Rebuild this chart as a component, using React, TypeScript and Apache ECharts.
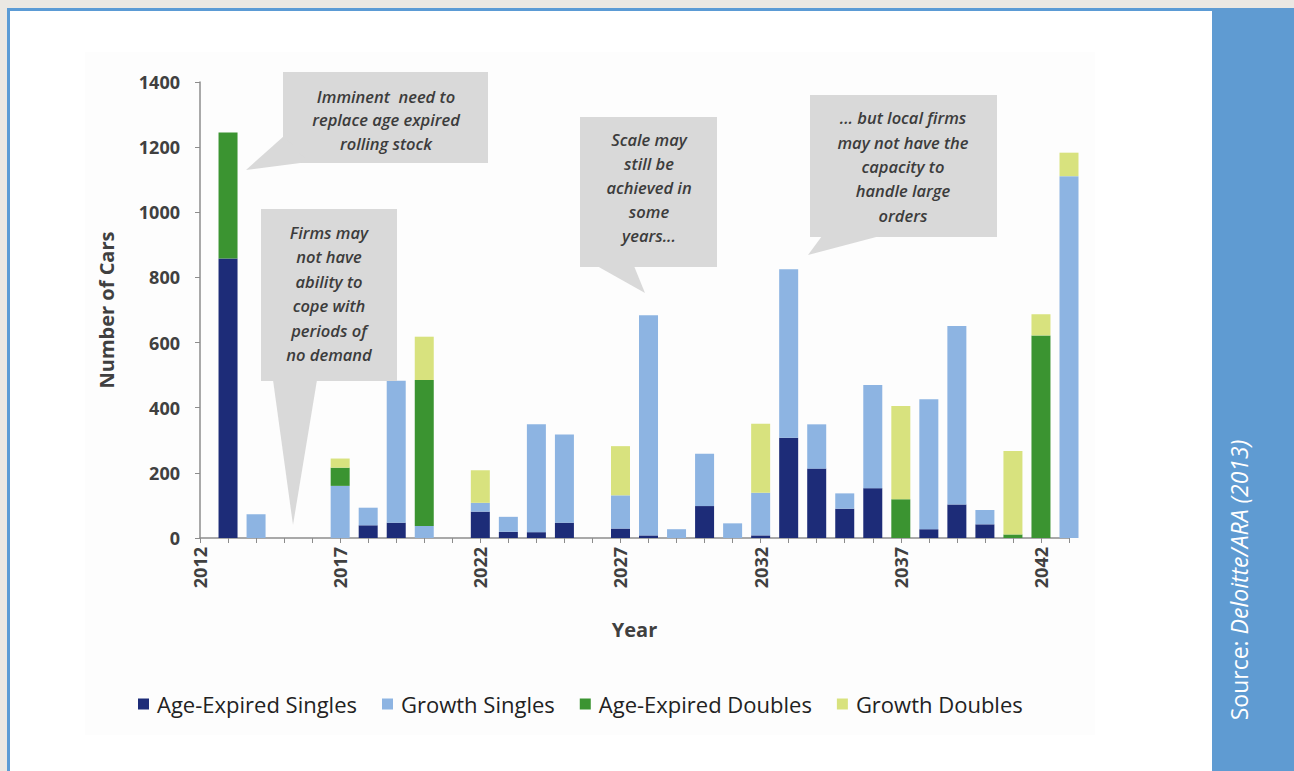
import React, { useEffect, useRef } from "react";
import * as echarts from "echarts";

const years = [
  "2012", "2013", "2014", "2015", "2016", "2017", "2018", "2019", "2020", "2021",
  "2022", "2023", "2024", "2025", "2026", "2027", "2028", "2029", "2030", "2031",
  "2032", "2033", "2034", "2035", "2036", "2037", "2038", "2039", "2040", "2041",
  "2042", "2043",
];

const ageExpiredSingles = [
  0, 858, 0, 0, 0, 0, 39, 47, 0, 0,
  81, 19, 18, 47, 0, 29, 8, 0, 98, 0,
  8, 308, 213, 90, 153, 0, 27, 103, 42, 0,
  0, 0,
];

const growthSingles = [
  0, 0, 73, 0, 0, 160, 54, 436, 37, 0,
  27, 46, 331, 271, 0, 102, 676, 27, 161, 45,
  131, 517, 136, 47, 317, 0, 399, 548, 44, 0,
  0, 1111,
];

const ageExpiredDoubles = [
  0, 387, 0, 0, 0, 56, 0, 0, 448, 0,
  0, 0, 0, 0, 0, 0, 0, 0, 0, 0,
  0, 0, 0, 0, 0, 119, 0, 0, 0, 11,
  622, 0,
];

const growthDoubles = [
  0, 0, 0, 0, 0, 28, 0, 0, 133, 0,
  100, 0, 0, 0, 0, 151, 0, 0, 0, 0,
  212, 0, 0, 0, 0, 286, 0, 0, 0, 256,
  65, 72,
];

const seriesNames = ["Age-Expired Singles", "Growth Singles", "Age-Expired Doubles", "Growth Doubles"];
const seriesColors = ["#1d2c78", "#8db4e2", "#3b9431", "#d8e27e"];

const FONT = "'Open Sans', 'Liberation Sans', sans-serif";
const CALLOUT = "#d9d9d9";

export default function App() {
  const ref = useRef<HTMLDivElement>(null);

  useEffect(() => {
    if (!ref.current) return;
    const chart = echarts.init(ref.current, null, { renderer: "svg" });
    const dataSets = [ageExpiredSingles, growthSingles, ageExpiredDoubles, growthDoubles];

    const calloutText = (x: number, y: number, text: string, lh: number) => ({
      type: "text",
      z: 101,
      x,
      y,
      style: {
        text,
        align: "center",
        verticalAlign: "middle",
        fontFamily: FONT,
        fontStyle: "italic",
        fontWeight: 600,
        fontSize: 16.5,
        lineHeight: lh,
        fill: "#3c3c3c",
      },
    });

    chart.setOption({
      animation: false,
      backgroundColor: "#ebe8e3",
      textStyle: { fontFamily: FONT },
      grid: { left: 200, right: 225, top: 82, bottom: 233, containLabel: false },
      xAxis: {
        type: "category",
        data: years,
        boundaryGap: false,
        name: "Year",
        nameLocation: "middle",
        nameGap: 81,
        nameTextStyle: { fontSize: 20, fontWeight: "bold", color: "#404040", fontFamily: FONT },
        axisLine: { lineStyle: { color: "#8c8c8c", width: 1.5 } },
        axisTick: { show: true, interval: 0, length: 5, lineStyle: { color: "#8c8c8c" } },
        axisLabel: {
          interval: 4,
          rotate: 90,
          margin: 9,
          fontSize: 18,
          fontWeight: "bold",
          color: "#404040",
          fontFamily: FONT,
        },
        splitLine: { show: false },
      },
      yAxis: {
        type: "value",
        min: 0,
        max: 1400,
        interval: 200,
        name: "Number of Cars",
        nameLocation: "middle",
        nameGap: 84,
        nameTextStyle: { fontSize: 20, fontWeight: "bold", color: "#404040", fontFamily: FONT },
        axisLine: { show: true, lineStyle: { color: "#8c8c8c", width: 1.5 } },
        axisTick: { show: true, length: 5, lineStyle: { color: "#8c8c8c" } },
        axisLabel: {
          fontSize: 18,
          fontWeight: "bold",
          color: "#404040",
          margin: 20,
          fontFamily: FONT,
          formatter: (v: number) => String(v),
        },
        splitLine: { show: false },
      },
      legend: {
        left: 133,
        top: 686,
        icon: "rect",
        itemWidth: 11,
        itemHeight: 11,
        itemGap: 25,
        data: seriesNames,
        textStyle: { fontSize: 22, color: "#222", fontFamily: FONT, lineHeight: 26, padding: [0, 0, 0, 3] },
      },
      series: seriesNames.map((name, i) => ({
        name,
        type: "bar",
        stack: "cars",
        barWidth: 19,
        clip: true,
        itemStyle: { color: seriesColors[i] },
        data: dataSets[i],
      })),
      graphic: [
        { type: "rect", z: -100, shape: { x: 7, y: 8, width: 1210, height: 770 }, style: { fill: "#5b9bd5" } },
        { type: "rect", z: -99, shape: { x: 10, y: 11, width: 1202, height: 765 }, style: { fill: "#ffffff" } },
        { type: "rect", z: -98, shape: { x: 85, y: 52, width: 1010, height: 683 }, style: { fill: "#fdfdfd" } },
        { type: "rect", z: -97, shape: { x: 1212, y: 8, width: 82, height: 770 }, style: { fill: "#5f9bd2" } },
        {
          type: "text",
          z: 50,
          x: 1239,
          y: 580,
          rotation: Math.PI / 2,
          style: {
            text: "{a|Source: }{b|Deloitte/ARA (2013)}",
            align: "center",
            verticalAlign: "middle",
            rich: {
              a: { fontFamily: FONT, fontSize: 23, fill: "#ffffff", color: "#ffffff" },
              b: { fontFamily: FONT, fontSize: 23, fontStyle: "italic", fill: "#ffffff", color: "#ffffff" },
            },
          },
        },
        // Callout 1
        { type: "rect", z: 100, shape: { x: 283, y: 72, width: 205, height: 91 }, style: { fill: CALLOUT } },
        { type: "polygon", z: 100, shape: { points: [[284, 136], [246, 170], [308, 162]] }, style: { fill: CALLOUT } },
        calloutText(386, 119.5, "Imminent  need to\nreplace age expired\nrolling stock", 23.5),
        // Callout 2
        { type: "rect", z: 100, shape: { x: 261, y: 209, width: 136, height: 172 }, style: { fill: CALLOUT } },
        { type: "polygon", z: 100, shape: { points: [[273, 380], [317, 380], [293, 525]] }, style: { fill: CALLOUT } },
        calloutText(329, 293.5, "Firms may\nnot have\nability to\ncope with\nperiods of\nno demand", 24.5),
        // Callout 3
        { type: "rect", z: 100, shape: { x: 580, y: 117, width: 137, height: 150 }, style: { fill: CALLOUT } },
        { type: "polygon", z: 100, shape: { points: [[597, 266], [634, 266], [645, 293]] }, style: { fill: CALLOUT } },
        calloutText(649, 187.5, "Scale may\nstill be\nachieved in\nsome\nyears...", 24),
        // Callout 4
        { type: "rect", z: 100, shape: { x: 810, y: 95, width: 187, height: 142 }, style: { fill: CALLOUT } },
        { type: "polygon", z: 100, shape: { points: [[822, 236], [880, 236], [808, 255]] }, style: { fill: CALLOUT } },
        calloutText(903, 166.5, "... but local firms\nmay not have the\ncapacity to\nhandle large\norders", 24.3),
      ],
    });

    return () => chart.dispose();
  }, []);

  return (
    <div
      ref={ref}
      style={{ position: "absolute", left: 0, top: 0, width: 1294, height: 771 }}
    />
  );
}
